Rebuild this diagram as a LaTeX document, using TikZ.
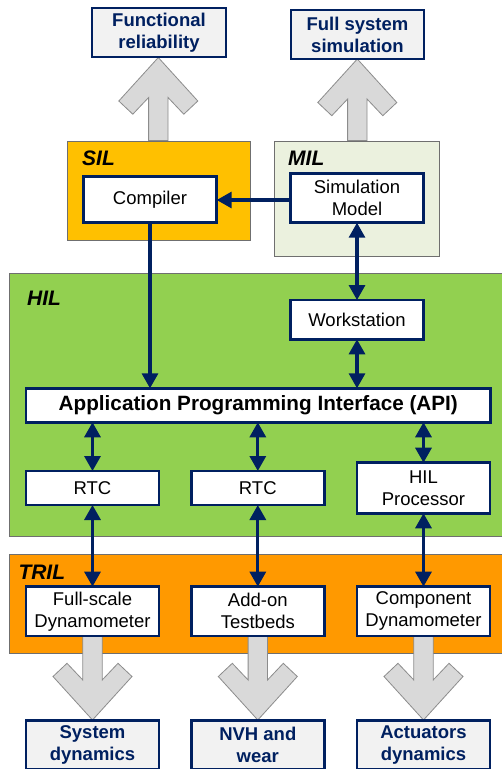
\documentclass[tikz,border=0pt]{standalone}
\usepackage{fontspec}
\setmainfont{Liberation Sans}
\usetikzlibrary{arrows.meta}
\definecolor{navy}{RGB}{0,32,96}
\definecolor{silc}{HTML}{FFC000}
\definecolor{milc}{HTML}{EBF1DE}
\definecolor{hilc}{HTML}{92D050}
\definecolor{trilc}{HTML}{FF9900}
\definecolor{resc}{HTML}{F2F2F2}
\definecolor{garrow}{HTML}{D9D9D9}
\definecolor{garrowline}{HTML}{8C8C8C}
\definecolor{contline}{HTML}{6F6F6F}
\tikzset{
  box/.style={draw=navy, line width=2.8pt, fill=white, inner sep=0pt, outer sep=0pt,
    align=center, font=\fontsize{18.5}{22}\selectfont, text=black},
  resbox/.style={box, fill=resc, text=navy, font=\fontsize{18.5}{22}\selectfont\bfseries},
  layer/.style={draw=contline, line width=0.9pt},
  layerlabel/.style={anchor=base west, inner sep=0pt, font=\fontsize{21}{24}\selectfont\bfseries\itshape},
  conn/.style={draw=navy, line width=3.2pt},
  onehead/.style={conn, -{Triangle[length=15pt,width=16pt]}},
  twohead/.style={conn, {Triangle[length=15pt,width=16pt]}-{Triangle[length=15pt,width=16pt]}},
  bigarrow/.style={fill=garrow, draw=garrowline, line width=0.8pt, line join=miter}
}
% #1 tip x, #2 tip y, #3 shaft end y, #4 direction (1 = points up, -1 = points down)
\newcommand\grayarrow[4]{%
  \path[bigarrow] (#1,#2) -- ({#1+39.5},{#2+#4*43.5}) -- ({#1+25.5},{#2+#4*56.7})
    -- ({#1+9.7},{#2+#4*40}) -- ({#1+9.7},#3) -- ({#1-9.7},#3) -- ({#1-9.7},{#2+#4*40})
    -- ({#1-25.5},{#2+#4*56.7}) -- ({#1-39.5},{#2+#4*43.5}) -- cycle;}
\begin{document}
\begin{tikzpicture}[x=1pt,y=-1pt]
\useasboundingbox (0,0) rectangle (502,769);
\clip (0,0) rectangle (502,769);
\fill[white] (0,0) rectangle (502,769);

% layers
\path[layer, fill=silc] (67.3,141) rectangle (250,240);
\path[layer, fill=milc] (274.3,141) rectangle (439.5,256.7);
\path[layer, fill=hilc] (9.3,273.3) rectangle (515,536.7);
\path[layer, fill=trilc] (9.3,554.3) rectangle (515,653.3);

\node[layerlabel] (sil) at (82,165) {SIL};
\node[layerlabel] (mil) at (288,165) {MIL};
\node[layerlabel] (hil) at (27,305) {HIL};
\node[layerlabel] (tril) at (18.3,579.5) {TRIL};

% big gray arrows
\grayarrow{158.3}{57.5}{140.5}{1}
\grayarrow{357.3}{59}{140.5}{1}
\grayarrow{92.5}{720}{636}{-1}
\grayarrow{257.8}{720}{636}{-1}
\grayarrow{423.5}{720}{636}{-1}

% result boxes
\node[resbox, minimum width=134pt, minimum height=49pt] (fr) at (159,32.5) {Functional\\reliability};
\node[resbox, minimum width=133pt, minimum height=49pt] (fss) at (357.5,34.5) {Full system\\simulation};
\node[resbox, minimum width=133pt, minimum height=49pt] (sd) at (92.5,745) {System\\dynamics};
\node[resbox, minimum width=133pt, minimum height=49pt] (nvh) at (257.8,745) {NVH and\\wear};
\node[resbox, minimum width=133pt, minimum height=49pt] (act) at (423.5,745) {Actuators\\dynamics};

% inner boxes
\node[box, minimum width=133.4pt, minimum height=46pt] (comp) at (150,199.7) {Compiler};
\node[box, minimum width=133pt, minimum height=49.4pt] (sim) at (357,198) {Simulation\\Model};
\node[box, minimum width=133.3pt, minimum height=39.3pt] (ws) at (357,319.7) {Workstation};
\node[box, minimum width=464.7pt, minimum height=34pt, font=\fontsize{20.7}{24}\selectfont\bfseries] (api) at (258.3,405.3) {Application Programming Interface (API)};
\node[box, minimum width=133pt, minimum height=34pt] (rtca) at (92.5,488) {RTC};
\node[box, minimum width=133pt, minimum height=34pt] (rtcb) at (257.8,488) {RTC};
\node[box, minimum width=133pt, minimum height=50.6pt] (hilp) at (423.5,488) {HIL\\Processor};
\node[box, minimum width=133pt, minimum height=49.3pt] (fsd) at (92.5,611.3) {Full-scale\\Dynamometer};
\node[box, minimum width=133pt, minimum height=49.3pt] (aot) at (257.8,611.3) {Add-on\\Testbeds};
\node[box, minimum width=133pt, minimum height=49.3pt] (cdy) at (423.5,611.3) {Component\\Dynamometer};

% connectors
\draw[onehead] (sim.west |- 0,200) -- (comp.east |- 0,200);
\draw[onehead] (comp.south) -- (comp.south |- api.north);
\draw[twohead] (ws.north) -- (sim.south);
\draw[twohead] (ws.south) -- (ws.south |- api.north);
\draw[twohead] (rtca.north |- api.south) -- (rtca.north);
\draw[twohead] (rtcb.north |- api.south) -- (rtcb.north);
\draw[twohead] (hilp.north |- api.south) -- (hilp.north);
\draw[twohead] (rtca.south) -- (fsd.north);
\draw[twohead] (rtcb.south) -- (aot.north);
\draw[twohead] (hilp.south) -- (cdy.north);
\end{tikzpicture}
\end{document}
